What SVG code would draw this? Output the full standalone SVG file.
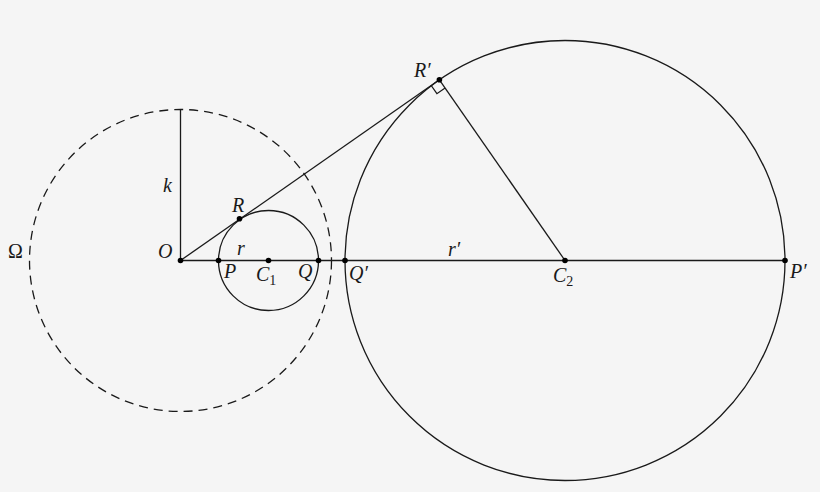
<svg xmlns="http://www.w3.org/2000/svg" width="820" height="492" viewBox="0 0 820 492">
<style>
.ln{fill:none;stroke:#1a1a1a;stroke-width:1.3}
.dash{fill:none;stroke:#1a1a1a;stroke-width:1.3;stroke-dasharray:9 6}
.pt{fill:#000}
.lb{font-family:"Liberation Serif","DejaVu Serif",serif;font-style:italic;font-size:20px;fill:#1a1a1a}
.up{font-style:normal}
.sub{font-style:normal;font-size:14px}
</style>
<rect width="820" height="492" fill="#f5f5f5"/>
<g id="connectors">
<circle class="dash" cx="180.5" cy="260.5" r="151"/>
<line class="ln" x1="180.5" y1="260.5" x2="180.5" y2="109.5"/>
<line class="ln" x1="180.5" y1="260.5" x2="785" y2="260.5"/>
<line class="ln" x1="180.5" y1="260.5" x2="439.4" y2="79.8"/>
<line class="ln" x1="439.4" y1="79.8" x2="565" y2="260.5"/>
<polyline class="ln" points="431.2,85.5 436.9,93.7 445.1,88"/>
</g>
<g id="circle-C1"><circle class="ln" cx="268.5" cy="260.5" r="50"/></g>
<g id="circle-C2"><circle class="ln" cx="565" cy="260.5" r="220"/></g>
<g id="O"><circle class="pt" cx="180.5" cy="260.5" r="2.8"/><text class="lb" x="158" y="258">O</text></g>
<g id="P"><circle class="pt" cx="218.5" cy="260.5" r="2.8"/><text class="lb" x="224" y="278">P</text></g>
<g id="C1"><circle class="pt" cx="268.5" cy="260.5" r="2.8"/><text class="lb" x="256" y="281">C<tspan class="sub" dy="4">1</tspan></text></g>
<g id="Q"><circle class="pt" cx="318.5" cy="260.5" r="2.8"/><text class="lb" x="298" y="278">Q</text></g>
<g id="Qp"><circle class="pt" cx="345" cy="260.5" r="2.8"/><text class="lb" x="349" y="280">Q′</text></g>
<g id="C2"><circle class="pt" cx="565" cy="260.5" r="2.8"/><text class="lb" x="553" y="282">C<tspan class="sub" dy="4">2</tspan></text></g>
<g id="Pp"><circle class="pt" cx="785" cy="260.5" r="2.8"/><text class="lb" x="790" y="278">P′</text></g>
<g id="R"><circle class="pt" cx="239.5" cy="218.8" r="2.8"/><text class="lb" x="232" y="212">R</text></g>
<g id="Rp"><circle class="pt" cx="439.4" cy="79.8" r="2.8"/><text class="lb" x="414" y="77">R′</text></g>
<g id="labels">
<text class="lb" x="237" y="255">r</text>
<text class="lb" x="448" y="256">r′</text>
<text class="lb" x="163" y="192">k</text>
<text class="lb up" x="8" y="258">Ω</text>
</g>
</svg>
